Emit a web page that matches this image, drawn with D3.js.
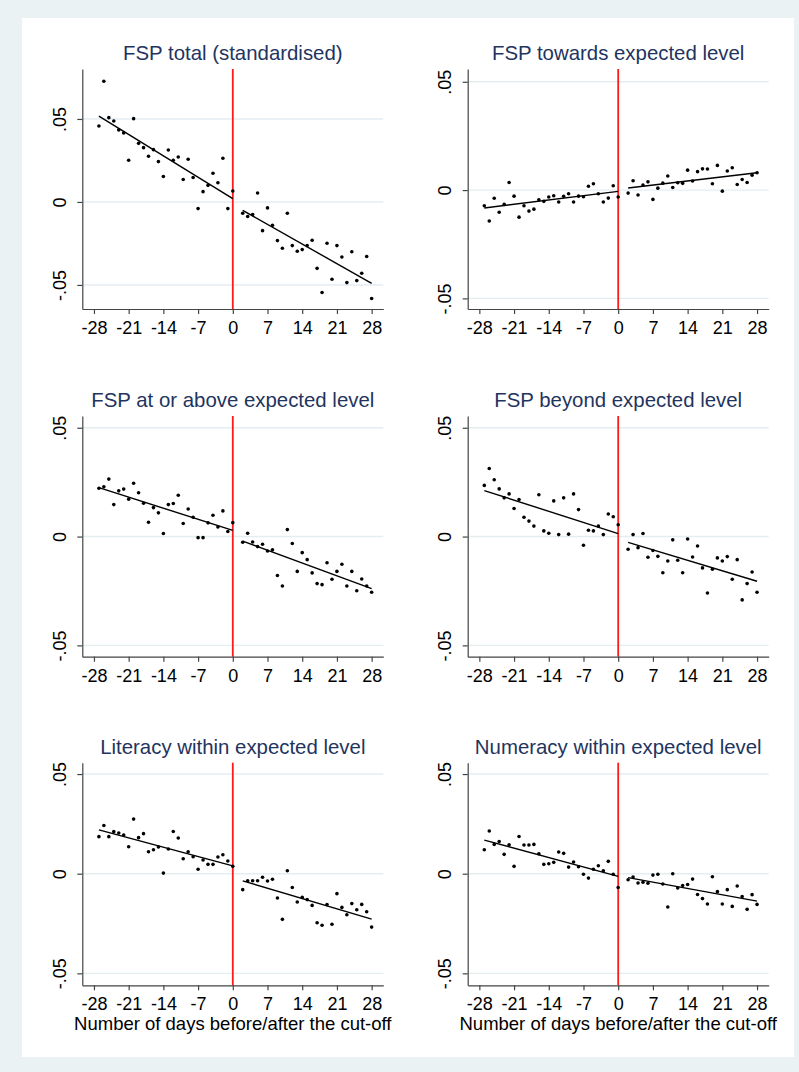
<!DOCTYPE html>
<html>
<head>
<meta charset="utf-8">
<script src="https://cdn.jsdelivr.net/npm/d3@7"></script>
<style>
  html, body { margin: 0; padding: 0; background: #eaf2f3; }
  svg { display: block; }
  text { font-family: "Liberation Sans", Arial, sans-serif; }
</style>
</head>
<body>
<svg id="chart" width="799" height="1072"></svg>
<script>
// days relative to the cut-off (day 1 has no observation)
const days = [
  -27, -26, -25, -24, -23, -22, -21, -20, -19, -18, -17, -16, -15, -14,
  -13, -12, -11, -10, -9, -8, -7, -6, -5, -4, -3, -2, -1, 0,
  2, 3, 4, 5, 6, 7, 8, 9, 10, 11, 12, 13, 14, 15,
  16, 17, 18, 19, 20, 21, 22, 23, 24, 25, 26, 27, 28,
];

const fspTotal = [
  0.0458, 0.0727, 0.0508, 0.0488, 0.0434, 0.0416, 0.0251, 0.0502, 0.0353, 0.0327, 0.0275, 0.0315, 0.0243, 0.0153,
  0.0313, 0.0251, 0.0271, 0.0135, 0.0257, 0.0147, -0.0040, 0.0062, 0.0100, 0.0173, 0.0116, 0.0263, -0.0040, 0.0066,
  -0.0068, -0.0088, -0.0076, 0.0054, -0.0173, -0.0036, -0.0141, -0.0233, -0.0279, -0.0068, -0.0263, -0.0297, -0.0287, -0.0263,
  -0.0231, -0.0400, -0.0546, -0.0249, -0.0466, -0.0263, -0.0332, -0.0486, -0.0300, -0.0474, -0.0430, -0.0329, -0.0582,
];

const fspTowards = [
  -0.0072, -0.0143, -0.0038, -0.0102, -0.0066, 0.0035, -0.0028, -0.0125, -0.0072, -0.0097, -0.0088, -0.0045, -0.0052, -0.0032,
  -0.0026, -0.0055, -0.0029, -0.0017, -0.0055, -0.0028, -0.0031, 0.0018, 0.0029, -0.0017, -0.0055, -0.0037, 0.0020, -0.0032,
  -0.0014, 0.0043, -0.0023, 0.0023, 0.0038, -0.0043, 0.0009, 0.0032, 0.0065, 0.0012, 0.0034, 0.0031, 0.0092, 0.0042,
  0.0085, 0.0098, 0.0097, 0.0029, 0.0114, -0.0005, 0.0088, 0.0103, 0.0026, 0.0049, 0.0035, 0.0069, 0.0080,
];

const fspAtAbove = [
  0.0222, 0.0229, 0.0264, 0.0147, 0.0210, 0.0218, 0.0172, 0.0245, 0.0201, 0.0153, 0.0066, 0.0133, 0.0109, 0.0014,
  0.0147, 0.0152, 0.0190, 0.0060, 0.0127, 0.0089, -0.0005, -0.0005, 0.0063, 0.0098, 0.0044, 0.0118, 0.0023, 0.0064,
  -0.0026, 0.0015, -0.0025, -0.0046, -0.0035, -0.0066, -0.0061, -0.0179, -0.0227, 0.0032, -0.0032, -0.0160, -0.0074, -0.0106,
  -0.0167, -0.0216, -0.0221, -0.0120, -0.0196, -0.0160, -0.0127, -0.0227, -0.0160, -0.0249, -0.0195, -0.0227, -0.0256,
];

const fspBeyond = [
  0.0235, 0.0313, 0.0261, 0.0219, 0.0178, 0.0196, 0.0129, 0.0170, 0.0089, 0.0071, 0.0048, 0.0192, 0.0026, 0.0015,
  0.0164, 0.0009, 0.0178, 0.0011, 0.0196, 0.0124, -0.0040, 0.0029, 0.0026, 0.0048, 0.0009, 0.0104, 0.0091, 0.0054,
  -0.0058, 0.0009, -0.0051, 0.0014, -0.0095, -0.0064, -0.0091, -0.0166, -0.0112, -0.0015, -0.0109, -0.0166, -0.0011, -0.0094,
  -0.0043, -0.0144, -0.0259, -0.0150, -0.0098, -0.0112, -0.0092, -0.0196, -0.0106, -0.0291, -0.0216, -0.0163, -0.0256,
];

const literacy = [
  0.0186, 0.0242, 0.0186, 0.0211, 0.0204, 0.0194, 0.0135, 0.0274, 0.0181, 0.0201, 0.0110, 0.0120, 0.0134, 0.0003,
  0.0124, 0.0212, 0.0179, 0.0075, 0.0110, 0.0085, 0.0022, 0.0069, 0.0047, 0.0047, 0.0084, 0.0095, 0.0064, 0.0037,
  -0.0080, -0.0035, -0.0035, -0.0035, -0.0018, -0.0037, -0.0028, -0.0122, -0.0229, 0.0015, -0.0069, -0.0142, -0.0119, -0.0130,
  -0.0159, -0.0246, -0.0259, -0.0155, -0.0254, -0.0100, -0.0169, -0.0206, -0.0150, -0.0181, -0.0154, -0.0191, -0.0268,
];

const numeracy = [
  0.0120, 0.0214, 0.0147, 0.0161, 0.0097, 0.0145, 0.0037, 0.0187, 0.0144, 0.0144, 0.0147, 0.0100, 0.0047, 0.0050,
  0.0057, 0.0109, 0.0102, 0.0033, 0.0059, 0.0035, -0.0003, -0.0022, 0.0022, 0.0040, 0.0015, 0.0062, -0.0003, -0.0069,
  -0.0030, -0.0017, -0.0047, -0.0043, -0.0048, -0.0007, -0.0003, -0.0052, -0.0167, 0.0000, -0.0072, -0.0059, -0.0054, -0.0027,
  -0.0104, -0.0125, -0.0152, -0.0015, -0.0090, -0.0152, -0.0080, -0.0164, -0.0062, -0.0115, -0.0179, -0.0105, -0.0154,
];

const panelTitles = [
  "FSP total (standardised)",
  "FSP towards expected level",
  "FSP at or above expected level",
  "FSP beyond expected level",
  "Literacy within expected level",
  "Numeracy within expected level",
];
const panelSeries = [fspTotal, fspTowards, fspAtAbove, fspBeyond, literacy, numeracy];

const xTicks = [-28, -21, -14, -7, 0, 7, 14, 21, 28];
const xTickLabels = ["-28", "-21", "-14", "-7", "0", "7", "14", "21", "28"];
const yTicks = [-0.05, 0, 0.05];
const yTickLabels = ["-.05", "0", ".05"];
const xTitle = "Number of days before/after the cut-off";

// layout
const W = 799, H = 1072;
const colLeft = [82.3, 467.7];
const plotW = 301;
const rowTop = [69, 416, 762.7];
const rowBottom = [309, 656.7, 985.3];
const yDomains = [
  [-0.0645, 0.0801],
  [-0.0549, 0.0559],
  [-0.0552, 0.0554],
  [-0.0552, 0.0554],
  [-0.056, 0.0557],
  [-0.056, 0.0557],
];
const xDomain = [-30.35, 30.35];

const svg = d3.select("#chart");

svg.append("rect")
  .attr("width", W).attr("height", H)
  .attr("fill", "#eaf2f3");
svg.append("rect")
  .attr("x", 22).attr("y", 18)
  .attr("width", 772).attr("height", 1039)
  .attr("fill", "#ffffff");

// simple OLS fit, returns the two end points
function linearFit(xs, ys) {
  const mx = d3.mean(xs), my = d3.mean(ys);
  let sxy = 0, sxx = 0;
  xs.forEach((x, i) => {
    sxy += (x - mx) * (ys[i] - my);
    sxx += (x - mx) * (x - mx);
  });
  const b = sxy / sxx;
  const a = my - b * mx;
  return [d3.min(xs), d3.max(xs)].map((x) => ({ x, y: a + b * x }));
}

panelSeries.forEach((values, i) => {
  const col = i % 2, row = Math.floor(i / 2);
  const left = colLeft[col], top = rowTop[row], bottom = rowBottom[row];

  const x = d3.scaleLinear().domain(xDomain).range([left, left + plotW]);
  const y = d3.scaleLinear().domain(yDomains[i]).range([bottom, top]);

  const g = svg.append("g");

  // gridlines
  g.selectAll(".grid")
    .data(yTicks)
    .enter()
    .append("line")
    .attr("x1", left).attr("x2", left + plotW)
    .attr("y1", (d) => y(d)).attr("y2", (d) => y(d))
    .attr("stroke", "#e4edf0")
    .attr("stroke-width", 1.4);

  // cut-off line
  g.append("line")
    .attr("x1", x(0)).attr("x2", x(0))
    .attr("y1", top).attr("y2", bottom)
    .attr("stroke", "#ff1a1a")
    .attr("stroke-width", 1.8);

  const pts = days.map((d, k) => ({ x: d, y: values[k] }));

  // fitted lines either side of the cut-off
  const before = pts.filter((p) => p.x <= 0);
  const after = pts.filter((p) => p.x > 0);
  const line = d3.line().x((p) => x(p.x)).y((p) => y(p.y));
  [before, after].forEach((part) => {
    g.append("path")
      .datum(linearFit(part.map((p) => p.x), part.map((p) => p.y)))
      .attr("fill", "none")
      .attr("stroke", "#000")
      .attr("stroke-width", 1.4)
      .attr("d", line);
  });

  g.selectAll(".dot")
    .data(pts)
    .enter()
    .append("circle")
    .attr("cx", (p) => x(p.x))
    .attr("cy", (p) => y(p.y))
    .attr("r", 1.8)
    .attr("fill", "#000");

  // axes
  const xAxis = d3.axisBottom(x).tickValues(xTicks)
    .tickFormat((d, k) => xTickLabels[k])
    .tickSize(5).tickSizeOuter(0);
  const gx = g.append("g")
    .attr("transform", `translate(0,${bottom})`)
    .call(xAxis);
  gx.selectAll("text")
    .attr("y", 25).attr("dy", 0)
    .style("font-size", "18px")
    .style("fill", "#000");

  const yAxis = d3.axisLeft(y).tickValues(yTicks)
    .tickFormat((d, k) => yTickLabels[k])
    .tickSize(5).tickSizeOuter(0);
  const gy = g.append("g")
    .attr("transform", `translate(${left},0)`)
    .call(yAxis);
  gy.selectAll("text")
    .attr("transform", "rotate(-90)")
    .attr("x", 0).attr("y", -16.5).attr("dy", 0)
    .attr("text-anchor", "middle")
    .style("font-size", "18px")
    .style("fill", "#000");

  [gx, gy].forEach((ax) => {
    ax.attr("font-family", null);
    ax.select(".domain").attr("stroke", "#444").attr("stroke-width", 1.2);
    ax.selectAll(".tick line").attr("stroke", "#444").attr("stroke-width", 1.2);
  });

  // panel title
  g.append("text")
    .attr("x", left + plotW / 2)
    .attr("y", top - 9)
    .attr("text-anchor", "middle")
    .style("font-size", "20.4px")
    .style("fill", "#1f3460")
    .text(panelTitles[i]);

  if (row === 2) {
    g.append("text")
      .attr("x", left + plotW / 2)
      .attr("y", 1030)
      .attr("text-anchor", "middle")
      .style("font-size", "18.5px")
      .style("fill", "#000")
      .text(xTitle);
  }
});
</script>
</body>
</html>
